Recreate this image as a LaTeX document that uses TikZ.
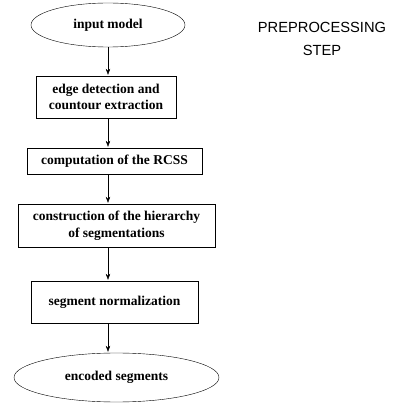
\documentclass[tikz,border=0pt]{standalone}
\usepackage{fontspec}
\setmainfont{Liberation Serif}
\setsansfont{Liberation Sans}
\usepackage{tikz}
\usetikzlibrary{shapes,arrows,arrows.meta}
\usetikzlibrary{calc}
\usetikzlibrary{positioning}

\tikzset{
  block/.style={draw, rectangle, thin, inner sep=0pt, align=center,
    font=\fontsize{13.5}{16.7}\selectfont\bfseries},
  terminal/.style={draw, ellipse, thin, inner sep=0pt, align=center,
    font=\fontsize{13.5}{16.7}\selectfont\bfseries},
  flow/.style={->, thin, >={Stealth[length=6pt,width=4.5pt]}, shorten >=1pt}
}

\begin{document}
\begin{tikzpicture}[auto, x=1pt, y=-1pt]
    \useasboundingbox (0,0) rectangle (415,403);
    % We start by placing the blocks
    \node[terminal, minimum width=154pt, minimum height=44pt] (input) at (108,25) {input model};
    \node[block, minimum width=140pt, minimum height=42pt] (edge) at (106,97)
        {edge detection and\\countour extraction};
    \node[block, minimum width=175pt, minimum height=26pt] (rcss) at (114.5,161)
        {computation of the RCSS};
    \node[block, minimum width=197pt, minimum height=43pt] (hier) at (116.5,225.5)
        {construction of the hierarchy\\of segmentations};
    \node[block, minimum width=167pt, minimum height=42pt] (norm) at (114.5,302)
        {segment normalization};
    \node[terminal, minimum width=205pt, minimum height=49pt] (encoded) at (116.5,377.5)
        {encoded segments};

    % label on the right
    \node[align=center, font=\sffamily\fontsize{14.7}{23}\selectfont] (step) at (322,39)
        {PREPROCESSING\\STEP};

    % connecting the blocks
    \draw[flow] (input.south) -- (input |- edge.north);
    \draw[flow] (edge.south -| input) -- (input |- rcss.north);
    \draw[flow] (rcss.south -| input) -- (input |- hier.north);
    \draw[flow] (hier.south -| input) -- (input |- norm.north);
    \draw[flow] (norm.south -| input) -- (input |- encoded.north);
\end{tikzpicture}
\end{document}
